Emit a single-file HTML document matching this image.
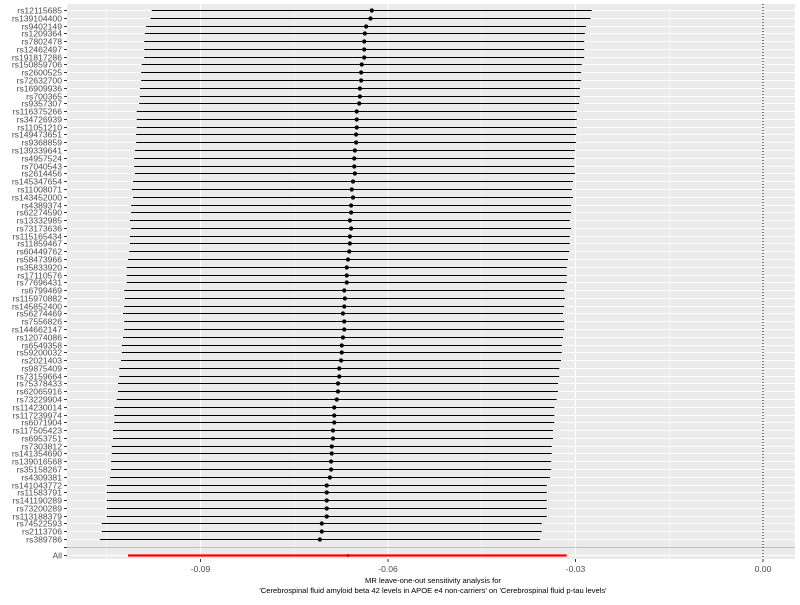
<!DOCTYPE html>
<html><head><meta charset="utf-8"><style>
body{margin:0;background:#fff;}
svg text{font-family:"Liberation Sans",Arial,sans-serif;}
</style></head><body>
<svg id="chart" width="800" height="600" xmlns="http://www.w3.org/2000/svg"></svg>
<script>
const snps=["rs12115685","rs139104400","rs9402149","rs1209364","rs7802478","rs12462497","rs191817286","rs150859706","rs2600525","rs72632700","rs16909936","rs700365","rs9357307","rs116375266","rs34726939","rs11051210","rs149473651","rs9368859","rs139339641","rs4957524","rs7040543","rs2614456","rs145347654","rs11008071","rs143452000","rs4389374","rs62274590","rs13332985","rs73173636","rs115165434","rs11859467","rs60449762","rs58473966","rs35833920","rs17110576","rs77696431","rs6799469","rs115970882","rs145852400","rs56274469","rs7556826","rs144662147","rs12074086","rs6549358","rs59200032","rs2021403","rs9875409","rs73159664","rs75378433","rs62065916","rs73229904","rs114230014","rs117239974","rs6071904","rs117505423","rs6953751","rs7303812","rs141354690","rs139016568","rs35158267","rs4309381","rs141043772","rs11583791","rs141190289","rs73200289","rs113188379","rs74522593","rs2113706","rs389786"];
const est=[-0.0626,-0.0628,-0.0635,-0.0637,-0.0638,-0.0638,-0.0638,-0.0642,-0.0643,-0.0643,-0.0645,-0.0645,-0.0646,-0.0650,-0.0650,-0.0650,-0.0651,-0.0651,-0.0653,-0.0654,-0.0654,-0.0653,-0.0656,-0.0658,-0.0656,-0.0659,-0.0659,-0.0661,-0.0659,-0.0661,-0.0661,-0.0662,-0.0664,-0.0666,-0.0666,-0.0666,-0.0670,-0.0669,-0.0670,-0.0672,-0.0670,-0.0670,-0.0672,-0.0674,-0.0674,-0.0675,-0.0678,-0.0678,-0.0680,-0.0680,-0.0682,-0.0686,-0.0686,-0.0686,-0.0688,-0.0688,-0.0690,-0.0690,-0.0691,-0.0691,-0.0693,-0.0698,-0.0698,-0.0698,-0.0698,-0.0698,-0.0706,-0.0706,-0.0709];
const lower=[-0.0978,-0.0980,-0.0987,-0.0989,-0.0990,-0.0990,-0.0990,-0.0994,-0.0995,-0.0995,-0.0997,-0.0997,-0.0998,-0.1002,-0.1002,-0.1002,-0.1003,-0.1003,-0.1005,-0.1006,-0.1006,-0.1005,-0.1008,-0.1010,-0.1008,-0.1011,-0.1011,-0.1013,-0.1011,-0.1013,-0.1013,-0.1014,-0.1016,-0.1018,-0.1018,-0.1018,-0.1022,-0.1021,-0.1022,-0.1024,-0.1022,-0.1022,-0.1024,-0.1026,-0.1026,-0.1027,-0.1030,-0.1030,-0.1032,-0.1032,-0.1034,-0.1038,-0.1038,-0.1038,-0.1040,-0.1040,-0.1042,-0.1042,-0.1043,-0.1043,-0.1045,-0.1050,-0.1050,-0.1050,-0.1050,-0.1050,-0.1058,-0.1058,-0.1061];
const upper=[-0.0274,-0.0276,-0.0283,-0.0285,-0.0286,-0.0286,-0.0286,-0.0290,-0.0291,-0.0291,-0.0293,-0.0293,-0.0294,-0.0298,-0.0298,-0.0298,-0.0299,-0.0299,-0.0301,-0.0302,-0.0302,-0.0301,-0.0304,-0.0306,-0.0304,-0.0307,-0.0307,-0.0309,-0.0307,-0.0309,-0.0309,-0.0310,-0.0312,-0.0314,-0.0314,-0.0314,-0.0318,-0.0317,-0.0318,-0.0320,-0.0318,-0.0318,-0.0320,-0.0322,-0.0322,-0.0323,-0.0326,-0.0326,-0.0328,-0.0328,-0.0330,-0.0334,-0.0334,-0.0334,-0.0336,-0.0336,-0.0338,-0.0338,-0.0339,-0.0339,-0.0341,-0.0346,-0.0346,-0.0346,-0.0346,-0.0346,-0.0354,-0.0354,-0.0357];
const allEst=-0.0664, allLower=-0.1016, allUpper=-0.0314;
const xTicks=[-0.09,-0.06,-0.03,0.00];
const xTickLabels=["-0.09","-0.06","-0.03","0.00"];
const xMinor=[-0.105,-0.075,-0.045,-0.015];

const NS="http://www.w3.org/2000/svg";
const svg=document.getElementById('chart');
const PL=67,PR=795,PT=4,PB=559;
const nPos=snps.length+2;
function xs(v){return 763+(v-0)*6250;}
function ys(i){return Math.round(10+i*7.78)+0.5;}
function mk(tag,attrs,parent){const e=document.createElementNS(NS,tag);for(const k in attrs)e.setAttribute(k,attrs[k]);(parent||svg).appendChild(e);return e;}

let bg=mk('rect',{x:PL,y:PT,width:PR-PL,height:PB-PT,fill:'#EBEBEB'});


xMinor.forEach(v=>{let l=mk('line',{x1:xs(v),x2:xs(v),y1:PT,y2:PB,stroke:'#fff','stroke-width':0.5});

});
xTicks.forEach(v=>{let l=mk('line',{x1:xs(v),x2:xs(v),y1:PT,y2:PB,stroke:'#fff','stroke-width':1.1});

});
for(let i=0;i<nPos;i++){
  const isSep=(i===snps.length);
  let l=mk('line',{x1:PL,x2:PR,y1:ys(i),y2:ys(i),stroke:isSep?'#BEBEBE':'#fff','stroke-width':1});
  
  
  let t=mk('line',{x1:PL-3,x2:PL,y1:ys(i),y2:ys(i),stroke:'#333','stroke-width':1});
  
  
}
let zl=mk('line',{x1:xs(0),x2:xs(0),y1:PT,y2:PB,stroke:'#000','stroke-width':1,'stroke-dasharray':'1,2'});



snps.forEach((s,i)=>{
  const y=ys(i);
  let lab=mk('text',{x:PL-5,y:y+3,'text-anchor':'end','font-size':'8.6',fill:'#4D4D4D'});
  lab.textContent=s;
  
  
  let ci=mk('line',{x1:xs(lower[i]),x2:xs(upper[i]),y1:y,y2:y,stroke:'#000','stroke-width':1});
  
  
  let p=mk('circle',{cx:xs(est[i]),cy:y,r:2.1,fill:'#000'});
  
  
});
const yAll=ys(nPos-1);
let al=mk('text',{x:PL-5,y:yAll+3,'text-anchor':'end','font-size':'8.6',fill:'#4D4D4D'});
al.textContent='All';


let aci=mk('line',{x1:xs(allLower),x2:xs(allUpper),y1:yAll,y2:yAll,stroke:'#FF0000','stroke-width':2.2});


let ap=mk('circle',{cx:xs(allEst),cy:yAll,r:1.6,fill:'#FF0000'});



xTicks.forEach((v,i)=>{
  let t=mk('line',{x1:xs(v),x2:xs(v),y1:PB,y2:PB+3,stroke:'#333','stroke-width':1});
  
  
  let l=mk('text',{x:xs(v),y:PB+13,'text-anchor':'middle','font-size':'8.6',fill:'#4D4D4D'});
  l.textContent=xTickLabels[i];
  
  
});
let t1=mk('text',{x:433,y:583,'text-anchor':'middle','font-size':'7.6',fill:'#000'});
t1.textContent='MR leave-one-out sensitivity analysis for';


let t2=mk('text',{x:433,y:593,'text-anchor':'middle','font-size':'7.6',fill:'#000'});
t2.textContent="'Cerebrospinal fluid amyloid beta 42 levels in APOE e4 non-carriers' on 'Cerebrospinal fluid p-tau levels'";


</script>
</body></html>
